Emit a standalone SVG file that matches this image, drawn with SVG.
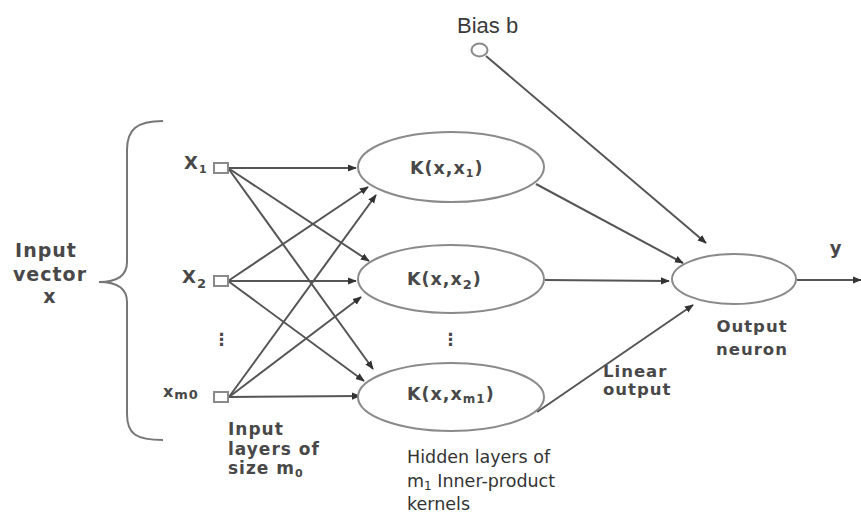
<svg xmlns="http://www.w3.org/2000/svg" width="861" height="516" viewBox="0 0 861 516">
  <defs>
    <marker id="arrow" viewBox="0 0 10 10" refX="9" refY="5" markerWidth="9" markerHeight="9" markerUnits="userSpaceOnUse" orient="auto">
      <path d="M0,1 L10,5 L0,9 z" fill="#333"/>
    </marker>
  </defs>
  <style>
    .lbl { font-family: "DejaVu Sans", Verdana, sans-serif; fill: #484848; font-weight: bold; letter-spacing: 1px; }
    .plain { font-family: "DejaVu Sans", Verdana, sans-serif; fill: #333; }
    .thin { font-family: "Liberation Sans", Arial, sans-serif; fill: #3a3a3a; }
    .edge { stroke: #555; stroke-width: 2; fill: none; marker-end: url(#arrow); }
    .node { fill: #fff; stroke: #8a8a8a; stroke-width: 2; }
  </style>
  <rect width="861" height="516" fill="#fff"/>

  <!-- brace grouping the input vector -->
  <path d="M163,121 C136,121 127,130 127,150 L127,262 C127,275 118,282 99,282 C118,282 127,289 127,302 L127,414 C127,434 136,440 163,440" fill="none" stroke="#777" stroke-width="2"/>
  <g id="input-vector-label" class="lbl" font-size="19" text-anchor="middle">
    <text x="46" y="257">Input</text>
    <text x="50" y="281">vector</text>
    <text x="50" y="303">x</text>
  </g>

  <!-- connectors -->
  <g id="connectors">
    <!-- from x1 -->
    <line class="edge" x1="228" y1="168" x2="356" y2="168"/>
    <line class="edge" x1="228" y1="168" x2="369" y2="261"/>
    <line class="edge" x1="228" y1="168" x2="373" y2="369"/>
    <!-- from x2 -->
    <line class="edge" x1="228" y1="281" x2="368" y2="187"/>
    <line class="edge" x1="228" y1="281" x2="356" y2="281"/>
    <line class="edge" x1="228" y1="281" x2="364" y2="381"/>
    <!-- from x_m0 -->
    <line class="edge" x1="229" y1="397" x2="376" y2="195"/>
    <line class="edge" x1="229" y1="397" x2="361" y2="297"/>
    <line class="edge" x1="229" y1="397" x2="360" y2="396"/>
    <!-- hidden to output -->
    <line class="edge" x1="536" y1="184" x2="683" y2="263"/>
    <line class="edge" x1="545" y1="280" x2="669" y2="281"/>
    <line class="edge" x1="537" y1="412" x2="693" y2="305"/>
    <!-- bias -->
    <line class="edge" x1="486" y1="56" x2="706" y2="243"/>
    <!-- output -->
    <line class="edge" x1="797" y1="280" x2="861" y2="280"/>
  </g>

  <!-- input nodes -->
  <g id="input-x1">
    <rect class="node" x="214" y="163" width="14" height="10"/>
    <text class="lbl" x="184" y="169" font-size="18">X<tspan font-size="11" dy="4">1</tspan></text>
  </g>
  <g id="input-x2">
    <rect class="node" x="214" y="276" width="14" height="10"/>
    <text class="lbl" x="182" y="283" font-size="18">X<tspan font-size="13" dy="5">2</tspan></text>
  </g>
  <g id="input-dots">
    <text class="lbl" x="222" y="345" font-size="17" text-anchor="middle">⋮</text>
  </g>
  <g id="input-xm0">
    <rect class="node" x="214" y="392" width="14" height="10"/>
    <text class="lbl" x="163" y="397" font-size="16" letter-spacing="0.5">x<tspan font-size="13" dy="2">m0</tspan></text>
  </g>

  <!-- hidden kernel nodes -->
  <g id="kernel-1">
    <ellipse class="node" cx="451" cy="167" rx="93" ry="35"/>
    <text class="lbl" x="410" y="174" font-size="17.5">K(x,x<tspan font-size="11" dy="3">1</tspan><tspan dy="-3">)</tspan></text>
  </g>
  <g id="kernel-2">
    <ellipse class="node" cx="451" cy="279" rx="93" ry="34"/>
    <text class="lbl" x="407" y="285" font-size="17.5">K(x,x<tspan font-size="13" dy="4">2</tspan><tspan dy="-4">)</tspan></text>
  </g>
  <g id="kernel-dots">
    <text class="lbl" x="451" y="345" font-size="17" text-anchor="middle">⋮</text>
  </g>
  <g id="kernel-m1">
    <ellipse class="node" cx="451" cy="397" rx="93" ry="34"/>
    <text class="lbl" x="407" y="400" font-size="17.5">K(x,x<tspan font-size="12" dy="3">m1</tspan><tspan dy="-3">)</tspan></text>
  </g>

  <!-- output neuron -->
  <g id="output-neuron">
    <ellipse class="node" cx="734" cy="279" rx="62" ry="25"/>
    <text class="lbl" x="752" y="332" font-size="16.5" text-anchor="middle">Output</text>
    <text class="lbl" x="752" y="355" font-size="16.5" text-anchor="middle">neuron</text>
  </g>
  <g id="output-y">
    <text class="lbl" x="836" y="254" font-size="18" text-anchor="middle">y</text>
  </g>

  <!-- bias -->
  <g id="bias">
    <ellipse cx="479.5" cy="50" rx="8" ry="6.5" fill="#fff" stroke="#8a8a8a" stroke-width="2"/>
    <text class="thin" x="457" y="33" font-size="22">Bias b</text>
  </g>

  <!-- annotations -->
  <g id="label-input-layers" class="lbl" font-size="17" letter-spacing="1.3">
    <text x="228" y="435">Input</text>
    <text x="228" y="455">layers of</text>
    <text x="228" y="474">size m<tspan font-size="11" dy="3">0</tspan></text>
  </g>
  <g id="label-hidden-layers" class="plain" font-size="17.5">
    <text x="407" y="463">Hidden layers of</text>
    <text x="407" y="487">m<tspan font-size="12" dy="3">1</tspan><tspan dy="-3"> Inner-product</tspan></text>
    <text x="407" y="510">kernels</text>
  </g>
  <g id="label-linear-output" class="lbl" font-size="16.5">
    <text x="603" y="377">Linear</text>
    <text x="603" y="395">output</text>
  </g>
</svg>
